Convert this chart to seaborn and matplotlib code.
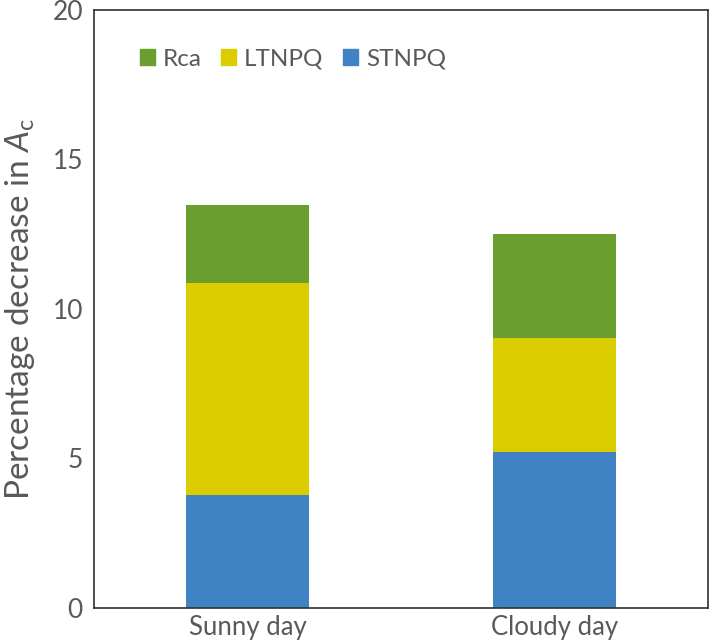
import matplotlib
matplotlib.use("Agg")
import matplotlib.pyplot as plt
import seaborn as sns
import pandas as pd
from matplotlib.patches import Patch

# data
days = ["Sunny day", "Cloudy day"]
stnpq = [3.78, 5.22]
ltnpq = [7.09, 3.81]
rca = [2.61, 3.48]

colors = {"Rca": "#6A9E2E", "LTNPQ": "#DBCC00", "STNPQ": "#3F83C4"}
text_color = "#595959"

df = pd.DataFrame({"day": days, "STNPQ": stnpq, "LTNPQ": ltnpq, "Rca": rca})
df["top_ltnpq"] = df["STNPQ"] + df["LTNPQ"]
df["top_rca"] = df["top_ltnpq"] + df["Rca"]

sns.set_style("white")
plt.rcParams["font.family"] = ["Lato", "DejaVu Sans"]
plt.rcParams["mathtext.fontset"] = "custom"
plt.rcParams["mathtext.rm"] = "Lato"
plt.rcParams["mathtext.it"] = "Lato:italic"

fig = plt.figure(figsize=(7.09, 6.44), dpi=100)
ax = fig.add_axes([0.1326, 0.0559, 0.866, 0.9286])

# stacked bars drawn back to front as cumulative totals
sns.barplot(data=df, x="day", y="top_rca", color=colors["Rca"], width=0.4,
            saturation=1, ax=ax)
sns.barplot(data=df, x="day", y="top_ltnpq", color=colors["LTNPQ"], width=0.4,
            saturation=1, ax=ax)
sns.barplot(data=df, x="day", y="STNPQ", color=colors["STNPQ"], width=0.4,
            saturation=1, ax=ax)
for p in ax.patches:
    p.set_linewidth(0)

ax.set_xlim(-0.5, 1.5)
ax.set_ylim(0, 20)
ax.set_yticks([0, 5, 10, 15, 20])
ax.set_xlabel("")
ax.set_ylabel("Percentage decrease in $\\mathit{A}_\\mathrm{c}$", fontsize=24,
              color=text_color, labelpad=11)
ax.tick_params(axis="y", direction="in", length=7, width=1, color="#404040",
               labelsize=19, labelcolor=text_color, pad=8)
ax.tick_params(axis="x", length=0, labelsize=18.5, labelcolor=text_color, pad=5)
for s in ax.spines.values():
    s.set_visible(True)
    s.set_color("#303030")
    s.set_linewidth(1.2)

handles = [Patch(color=colors[k], label=k) for k in ["Rca", "LTNPQ", "STNPQ"]]
leg = ax.legend(handles=handles, ncol=3, frameon=False, loc="center left",
                bbox_to_anchor=(0.075, 0.918), fontsize=17.5, handlelength=0.6,
                handleheight=0.6, handletextpad=0.34, columnspacing=0.8,
                borderpad=0, borderaxespad=0)
for t in leg.get_texts():
    t.set_color(text_color)

fig.savefig("out.png", dpi=100)
